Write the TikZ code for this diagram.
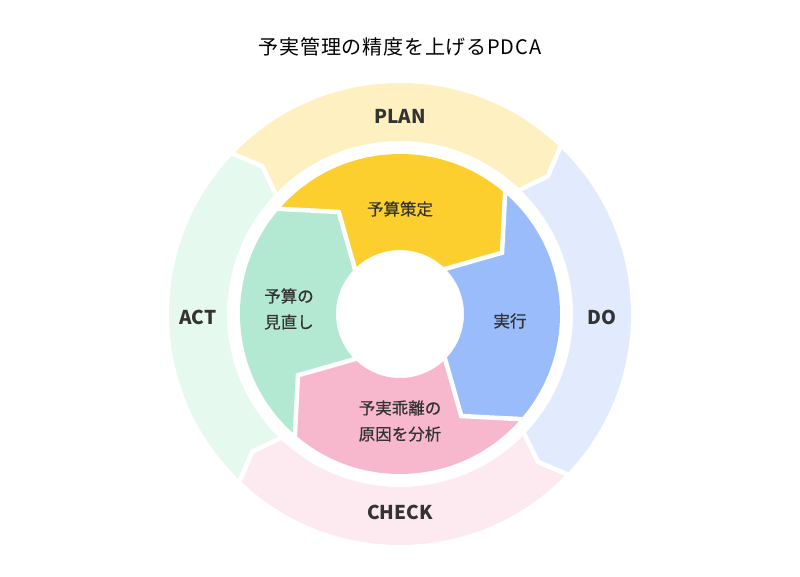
\documentclass[tikz,border=0pt]{standalone}
\usepackage{fontspec}
\setmainfont{Noto Sans CJK JP}
\usepackage{xcolor}
\definecolor{planpale}{HTML}{FEF0C0}
\definecolor{dopale}{HTML}{E2EBFD}
\definecolor{checkpale}{HTML}{FDEAF1}
\definecolor{actpale}{HTML}{E5F9EF}
\definecolor{planfill}{HTML}{FCCF2F}
\definecolor{dofill}{HTML}{9ABCFB}
\definecolor{checkfill}{HTML}{F7B8CD}
\definecolor{actfill}{HTML}{B3E9D2}
\definecolor{darktext}{HTML}{333333}

\begin{document}
\begin{tikzpicture}
    % Styles for labels and gaps
    \tikzset{
      heading/.style={font=\fontsize{20}{24}\selectfont\addfontfeature{LetterSpace=4}, text=black},
      phase/.style={font=\fontsize{19}{23}\selectfont\bfseries, text=darktext},
      task/.style={font=\fontsize{16.5}{26}\selectfont\addfontfeature{FakeBold=0.5}, text=darktext, align=center},
      gap/.style={draw=white, line width=4.5pt, line join=miter}
    }
    \useasboundingbox (-400pt,-263pt) rectangle (400pt,314pt);

    % Outer ring (arrows turning clockwise)
    \foreach \a/\col in {136.5/planpale, 46.5/dopale, -43.5/checkpale, -133.5/actpale}{
      \fill[\col] (\a:231pt) arc[start angle=\a, end angle=\a-90, radius=231pt]
        -- (\a-93.5:202pt) -- (\a-90:173pt)
        arc[start angle=\a-90, end angle=\a, radius=173pt]
        -- (\a-3.5:202pt) -- cycle;
    }
    \foreach \a in {136.5, 46.5, -43.5, -133.5}
      \draw[gap] (\a:235pt) -- (\a-3.5:202pt) -- (\a:169pt);

    % Inner pieces
    \foreach \a/\col in {140/planfill, 50/dofill, -40/checkfill, -130/actfill}{
      \fill[\col] (\a:160pt) arc[start angle=\a, end angle=\a-90, radius=160pt]
        -- (\a-109:119pt) -- (\a-93:64pt)
        arc[start angle=\a-93, end angle=\a-3, radius=64pt]
        -- (\a-19:119pt) -- cycle;
    }
    \foreach \a in {140, 50, -40, -130}
      \draw[gap] (\a:164pt) -- (\a-19:119pt) -- (\a-3:60pt);

    % Labels
    \node[heading] (title) at (0pt,267pt) {予実管理の精度を上げるPDCA};
    \node[phase] (plan) at (0pt,198pt) {PLAN};
    \node[phase] (do) at (202pt,-3pt) {DO};
    \node[phase] (check) at (0pt,-198pt) {CHECK};
    \node[phase] (act) at (-202pt,-3pt) {ACT};
    \node[task] (budget) at (0pt,105pt) {予算策定};
    \node[task] (execute) at (110pt,-7pt) {実行};
    \node[task] (variance) at (0pt,-107pt) {予実乖離の\\原因を分析};
    \node[task] (review) at (-111pt,5pt) {予算の\\見直し};

\end{tikzpicture}
\end{document}
